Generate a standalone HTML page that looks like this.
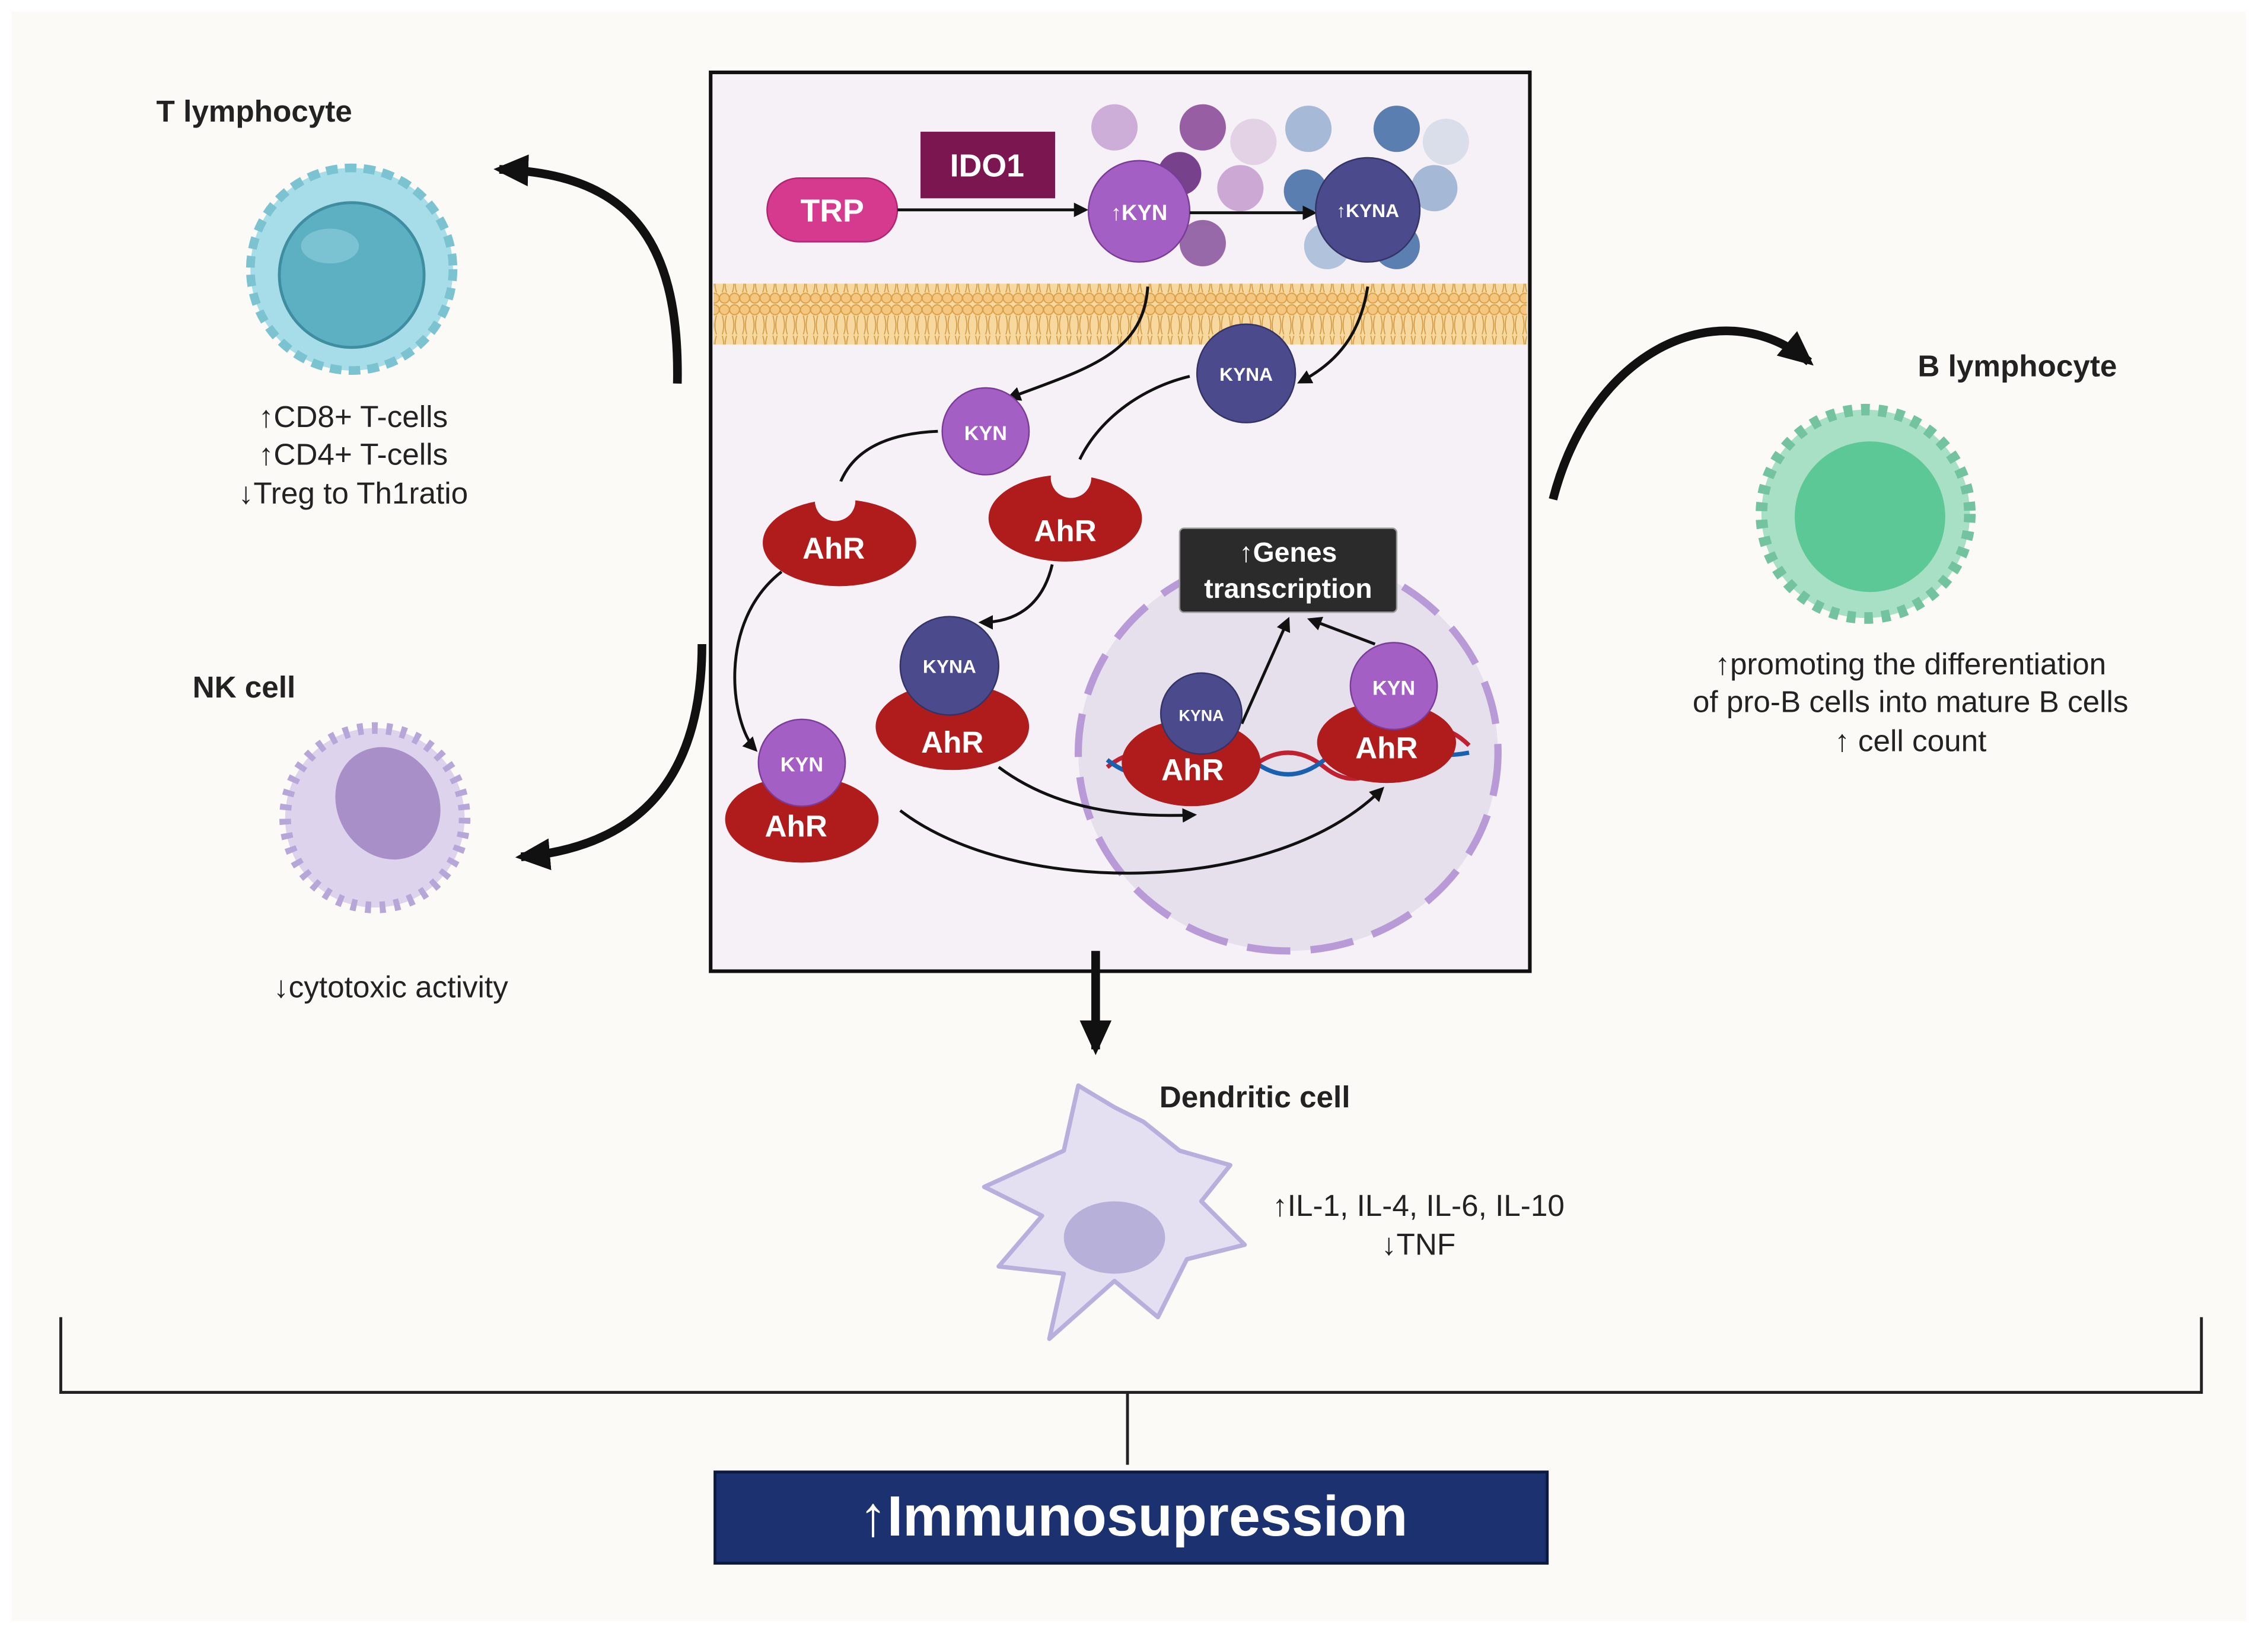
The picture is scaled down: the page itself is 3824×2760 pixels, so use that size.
<!DOCTYPE html>
<html><head><meta charset="utf-8"><style>
html,body{margin:0;padding:0;background:#fff}
svg{display:block}
text{font-family:"Liberation Sans",sans-serif}
</style></head><body>
<svg width="3824" height="2760" viewBox="0 0 1567 1131" preserveAspectRatio="none" xmlns="http://www.w3.org/2000/svg">
<defs>
<marker id="ah" markerWidth="10" markerHeight="10" refX="8" refY="5" orient="auto" markerUnits="userSpaceOnUse"><path d="M0,0 L10,5 L0,10 z" fill="#111"/></marker>
<marker id="ahb" markerWidth="26" markerHeight="26" refX="20" refY="13" orient="auto" markerUnits="userSpaceOnUse"><path d="M0,2 L24,13 L0,24 z" fill="#111"/></marker>
<pattern id="mem" width="7" height="42" patternUnits="userSpaceOnUse">
<rect width="7" height="42" fill="#f7d9a0"/>
<circle cx="3.5" cy="4" r="3.4" fill="#f5c77e" stroke="#d8a04a" stroke-width=".8"/>
<circle cx="3.5" cy="38" r="3.4" fill="#f5c77e" stroke="#d8a04a" stroke-width=".8"/>
<path d="M2,8 Q4,15 2,21 M5,8 Q3,15 5,21 M2,22 Q4,28 2,34 M5,22 Q3,28 5,34" stroke="#d19a45" stroke-width=".7" fill="none"/>
</pattern>
</defs>
<rect width="1567" height="1131" fill="#fff"/>
<rect x="8" y="8" width="1544" height="1112" fill="#fbfaf7"/>

<rect x="491" y="50" width="566" height="621" fill="#f6f1f7" stroke="#111" stroke-width="2.5"/>
<g opacity="0.9">
<circle cx="770" cy="88" r="16" fill="#c9a6d4"/><circle cx="831" cy="88" r="16" fill="#8d4f9a"/>
<circle cx="866" cy="98" r="16" fill="#e2cfe5"/><circle cx="904" cy="89" r="16" fill="#9db4d4"/>
<circle cx="965" cy="89" r="16" fill="#4a72a8"/><circle cx="999" cy="98" r="16" fill="#d6dce8"/>
<circle cx="857" cy="130" r="16" fill="#c8a2d2"/><circle cx="991" cy="130" r="16" fill="#9db4d4"/>
<circle cx="831" cy="168" r="16" fill="#8d5a9e"/><circle cx="917" cy="170" r="16" fill="#a9bdd8"/>
<circle cx="965" cy="170" r="16" fill="#4a72a8"/><circle cx="815" cy="120" r="15" fill="#6a2f80"/>
<circle cx="902" cy="132" r="15" fill="#4a72a8"/>
</g>
<rect x="530" y="123" width="90" height="44" rx="22" fill="#d63a8f" stroke="#b02470"/>
<text x="575" y="153" fill="#fff" font-size="22" font-weight="bold" text-anchor="middle">TRP</text>
<rect x="636" y="91" width="93" height="46" fill="#7b1650"/>
<text x="682" y="122" fill="#fff" font-size="22" font-weight="bold" text-anchor="middle">IDO1</text>
<line x1="620" y1="145" x2="750" y2="145" stroke="#111" stroke-width="2" marker-end="url(#ah)"/>
<circle cx="787" cy="146" r="35" fill="#a45fc4" stroke="#7a3c98"/>
<text x="787" y="152" fill="#fff" font-size="15" font-weight="bold" text-anchor="middle">↑KYN</text>
<line x1="822" y1="147" x2="908" y2="147" stroke="#111" stroke-width="2" marker-end="url(#ah)"/>
<circle cx="945" cy="145" r="36" fill="#4b4a8c" stroke="#333366"/>
<text x="945" y="150" fill="#fff" font-size="13" font-weight="bold" text-anchor="middle">↑KYNA</text>
<rect x="493" y="196" width="562" height="42" fill="url(#mem)"/>

<!-- nucleus -->
<ellipse cx="890" cy="520" rx="145" ry="137" fill="#e5e0ec" stroke="#b89ad6" stroke-width="5" stroke-dasharray="30,14"/>
<path d="M765,530 Q790,510 815,530 T865,530 T915,530 T965,520 T1015,515" stroke="#c02030" stroke-width="3" fill="none"/>
<path d="M765,525 Q790,545 815,525 T865,525 T915,525 T965,515 T1015,520" stroke="#1a60b0" stroke-width="3" fill="none"/>

<g fill="none" stroke="#111" stroke-width="2">
<path d="M793,198 C790,245 750,255 697,275" marker-end="url(#ah)"/>
<path d="M945,198 C940,230 925,250 898,264" marker-end="url(#ah)"/>
<path d="M648,298 C600,300 578,320 576,355" marker-end="url(#ah)"/>
<path d="M822,260 C780,270 750,300 742,328" marker-end="url(#ah)"/>
<path d="M727,390 C720,420 700,430 678,430" marker-end="url(#ah)"/>
<path d="M540,395 C495,430 505,500 522,518" marker-end="url(#ah)"/>
<path d="M690,530 C730,560 780,565 825,563" marker-end="url(#ah)"/>
<path d="M622,560 C700,620 880,620 955,545" marker-end="url(#ah)"/>
<path d="M858,500 L890,428" marker-end="url(#ah)"/>
<path d="M950,445 L905,428" marker-end="url(#ah)"/>
</g>
<rect x="815" y="365" width="150" height="58" rx="3" fill="#2b2b2b" stroke="#999"/>
<text x="890" y="388" fill="#fff" font-size="19" font-weight="bold" text-anchor="middle">↑Genes</text>
<text x="890" y="413" fill="#fff" font-size="19" font-weight="bold" text-anchor="middle">transcription</text>

<g font-size="21" font-weight="bold" fill="#fff" text-anchor="middle">
<ellipse cx="580" cy="375" rx="53" ry="30" fill="#b01c1c"/><circle cx="577" cy="346" r="14" fill="#f6f1f7"/>
<text x="576" y="386">AhR</text>
<ellipse cx="736" cy="358" rx="53" ry="30" fill="#b01c1c"/><circle cx="740" cy="330" r="14" fill="#f6f1f7"/>
<text x="736" y="374">AhR</text>
<ellipse cx="658" cy="502" rx="53" ry="30" fill="#b01c1c"/>
<circle cx="656" cy="460" r="34" fill="#4b4a8c" stroke="#333366"/>
<text x="658" y="520">AhR</text>
<text x="656" y="465" font-size="13">KYNA</text>
<ellipse cx="554" cy="566" rx="53" ry="30" fill="#b01c1c"/>
<circle cx="554" cy="527" r="30" fill="#a45fc4" stroke="#7a3c98"/>
<text x="550" y="578">AhR</text>
<text x="554" y="533" font-size="14">KYN</text>
<ellipse cx="823" cy="527" rx="48" ry="30" fill="#b01c1c"/>
<circle cx="830" cy="493" r="28" fill="#4b4a8c" stroke="#333366"/>
<text x="824" y="539">AhR</text>
<text x="830" y="498" font-size="11">KYNA</text>
<ellipse cx="958" cy="513" rx="48" ry="28" fill="#b01c1c"/>
<circle cx="963" cy="474" r="30" fill="#a45fc4" stroke="#7a3c98"/>
<text x="958" y="524">AhR</text>
<text x="963" y="480" font-size="14">KYN</text>
<circle cx="861" cy="258" r="34" fill="#4b4a8c" stroke="#333366"/>
<text x="861" y="263" font-size="13">KYNA</text>
<circle cx="681" cy="298" r="30" fill="#a45fc4" stroke="#7a3c98"/>
<text x="681" y="304" font-size="14">KYN</text>
</g>

<g fill="none" stroke="#111" stroke-width="6">
<path d="M468,265 C470,160 430,120 345,117" marker-end="url(#ahb)"/>
<path d="M485,445 C485,540 440,585 360,592" marker-end="url(#ahb)"/>
<path d="M1073,345 C1100,240 1190,200 1250,250" marker-end="url(#ahb)"/>
<path d="M757,657 L757,725" marker-end="url(#ahb)"/>
</g>

<g>
<circle cx="243" cy="186" r="70" fill="#a7dde8" stroke="#7cc3d2" stroke-width="6" stroke-dasharray="8,5"/>
<circle cx="243" cy="190" r="50" fill="#5cb0c2" stroke="#3e8ea0" stroke-width="2"/>
<ellipse cx="228" cy="170" rx="20" ry="12" fill="#8fd0dc" opacity=".6"/>
<circle cx="259" cy="565" r="62" fill="#ddd3ec" stroke="#b7a6d8" stroke-width="8" stroke-dasharray="4,6"/>
<ellipse cx="268" cy="555" rx="35" ry="40" fill="#a88fc8" transform="rotate(-30 268 555)"/>
<circle cx="1289" cy="355" r="72" fill="#a8e0c5" stroke="#72c39e" stroke-width="8" stroke-dasharray="6,6"/>
<circle cx="1292" cy="357" r="52" fill="#5cc895"/>
<path d="M770,765 L790,775 L815,795 L850,805 L830,830 L860,860 L820,870 L800,910 L770,885 L725,925 L735,880 L690,875 L720,840 L680,820 L735,795 L745,750 Z" fill="#e4e0f2" stroke="#b8b0dc" stroke-width="3" stroke-linejoin="round"/>
<ellipse cx="770" cy="855" rx="35" ry="25" fill="#b7b0d8"/>
</g>

<g font-size="21" fill="#222">
<text x="108" y="84" font-weight="bold">T lymphocyte</text>
<text x="244" y="295" text-anchor="middle">↑CD8+ T-cells</text>
<text x="244" y="321" text-anchor="middle">↑CD4+ T-cells</text>
<text x="244" y="348" text-anchor="middle">↓Treg to Th1ratio</text>
<text x="133" y="482" font-weight="bold">NK cell</text>
<text x="270" y="689" text-anchor="middle">↓cytotoxic activity</text>
<text x="1325" y="260" font-weight="bold">B lymphocyte</text>
<text x="1320" y="466" text-anchor="middle">↑promoting the differentiation</text>
<text x="1320" y="492" text-anchor="middle">of pro-B cells into mature B cells</text>
<text x="1320" y="519" text-anchor="middle">↑ cell count</text>
<text x="801" y="765" font-weight="bold">Dendritic cell</text>
<text x="980" y="840" text-anchor="middle">↑IL-1, IL-4, IL-6, IL-10</text>
<text x="980" y="867" text-anchor="middle">↓TNF</text>
</g>

<path d="M42,910 L42,962 L1521,962 L1521,910 M779,962 L779,1012" stroke="#222" stroke-width="2" fill="none"/>
<rect x="494" y="1017" width="575" height="63" fill="#1c3270" stroke="#0d1a40" stroke-width="2"/>
<text x="783" y="1061" fill="#fff" font-size="39" font-weight="bold" text-anchor="middle">↑Immunosupression</text>
</svg>
</body></html>
